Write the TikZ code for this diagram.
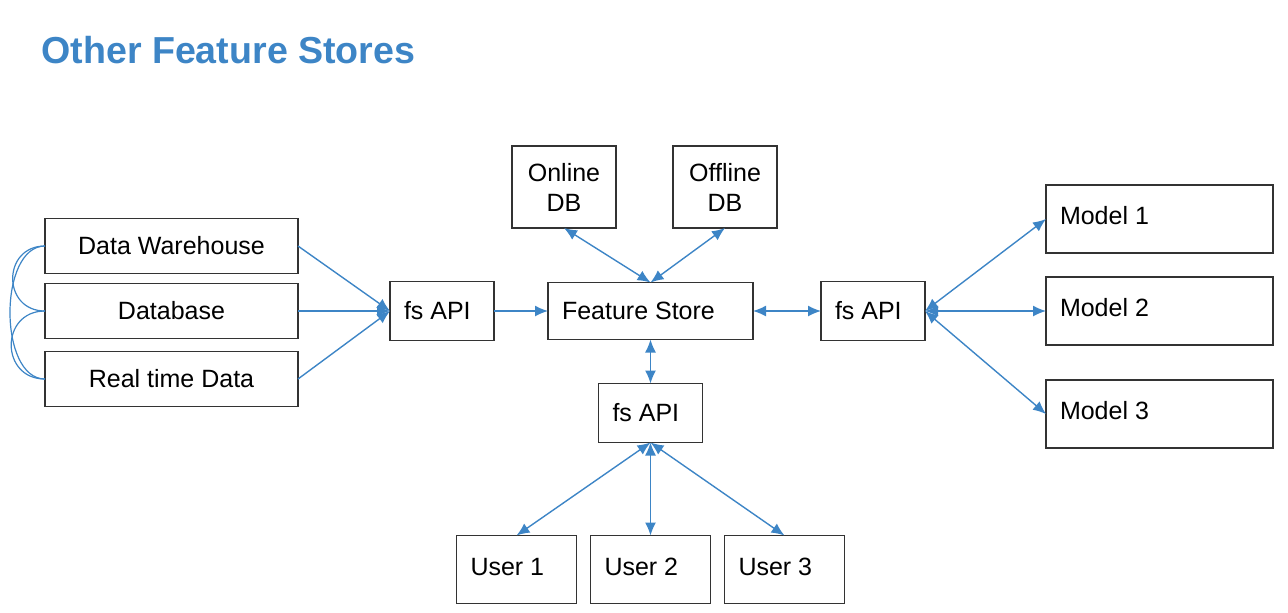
\documentclass[tikz,border=0pt]{standalone}
\usepackage{fontspec}
\setmainfont{Liberation Sans}
\usepackage{tikz}
\usetikzlibrary{positioning, arrows.meta}
\definecolor{fsblue}{HTML}{3D85C6}
\newcommand{\fsfont}{\fontsize{12.5}{15}\selectfont}
\tikzset{fsnode/.style={draw=black!80, line width=0.6pt, inner sep=0pt, outer sep=0pt, font=\fsfont}}
\tikzset{cbox/.style 2 args={fsnode, minimum width=#1, minimum height=#2, align=center}}
\tikzset{lbox/.style 2 args={fsnode, inner xsep=7pt, text width=#1, minimum height=#2, align=flush left}}
\tikzset{arr/.style={draw=fsblue, line width=0.7pt, -{Latex[length=6.5pt,width=5.5pt]}}}
\tikzset{arr2/.style={arr, {Latex[length=6.5pt,width=5.5pt]}-{Latex[length=6.5pt,width=5.5pt]}}}
\tikzset{link/.style={draw=fsblue, line width=0.6pt}}

\begin{document}
\begin{tikzpicture}[x=0.5pt, y=-0.5pt]
		\useasboundingbox (0,0) rectangle (1288,612);
		\node[anchor=base west, inner sep=0pt, text=fsblue, font=\fontsize{18.8}{22}\selectfont\bfseries] (title) at (41,63) {Other Feature Stores};
		% sources
		\node[cbox={126.5pt}{27.5pt}] (dw) at (171.5,246) {Data Warehouse};
		\node[cbox={126.5pt}{27.5pt}, below=5pt of dw] (db) {Database};
		\node[cbox={126.5pt}{27.5pt}, below=6.5pt of db] (rt) {Real time Data};
		% store
		\node[lbox={38pt}{29.5pt}, right=46pt of db] (apiL) {fs API};
		\node[lbox={88.5pt}{28.5pt}, right=27pt of apiL] (fs) {Feature Store};
		\node[lbox={38pt}{29.5pt}, right=34pt of fs] (apiR) {fs API};
		\node[cbox={52pt}{41pt}] (on) at (564,187) {Online\\DB};
		\node[cbox={52pt}{41pt}, right=28.5pt of on] (off) {Offline\\DB};
		\node[lbox={38pt}{29.5pt}, below=22pt of fs] (apiB) {fs API};
		% models
		\node[lbox={99.5pt}{34pt}, text depth=4pt, right=60.5pt of apiR] (m2) {Model 2};
		\node[lbox={99.5pt}{34pt}, text depth=4pt, above=12pt of m2] (m1) {Model 1};
		\node[lbox={99.5pt}{34pt}, text depth=4pt, below=17.5pt of m2] (m3) {Model 3};
		% users
		\node[lbox={46pt}{34pt}, text depth=3pt, below=46.5pt of apiB] (u2) {User 2};
		\node[lbox={46pt}{34pt}, text depth=3pt, left=7pt of u2] (u1) {User 1};
		\node[lbox={46pt}{34pt}, text depth=3pt, right=7pt of u2] (u3) {User 3};
%
		\draw[link] (dw.west) to[out=180, in=180, looseness=1.7] (db.west);
		\draw[link] (db.west) to[out=180, in=180, looseness=1.7] (rt.west);
		\draw[link] (dw.west) to[out=180, in=180, looseness=0.9] (rt.west);
		\foreach \s in {dw, db, rt}
			\draw[arr] (\s.east) -- (apiL.west);
		\draw[arr] (apiL.east) -- (fs.west);
		\draw[arr2] (fs.east) -- (apiR.west);
		\draw[arr2] (on.south) -- (fs.north);
		\draw[arr2] (off.south) -- (fs.north);
		\draw[arr2] (fs.south) -- (apiB.north);
		\foreach \m in {m1, m2, m3}
			\draw[arr2] (apiR.east) -- (\m.west);
		\foreach \u in {u1, u2, u3}
			\draw[arr2] (apiB.south) -- (\u.north);
	\end{tikzpicture}
\end{document}
